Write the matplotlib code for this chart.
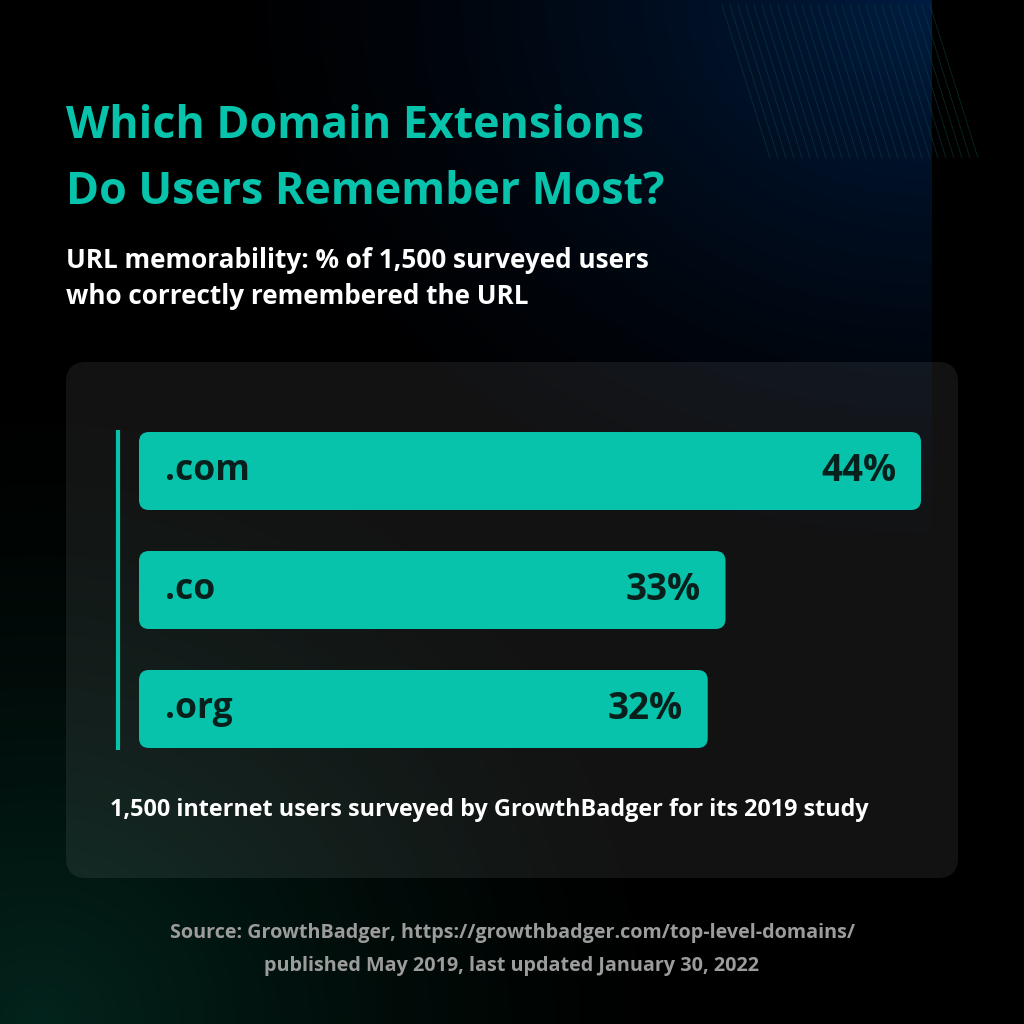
import numpy as np
import matplotlib; matplotlib.use('Agg')
import matplotlib.pyplot as plt
from matplotlib.patches import FancyBboxPatch

# data
categories = ['.com', '.co', '.org']
values = [44, 33, 32]
value_labels = ['44%', '33%', '32%']

TITLE = 'Which Domain Extensions\nDo Users Remember Most?'
SUBTITLE = 'URL memorability: % of 1,500 surveyed users\nwho correctly remembered the URL'
NOTE = '1,500 internet users surveyed by GrowthBadger for its 2019 study'
SOURCE = ['Source: GrowthBadger, https://growthbadger.com/top-level-domains/',
          'published May 2019, last updated January 30, 2022']

TEAL = '#07c3ac'
DARK = '#08201c'
FONT = 'Open Sans'

W = H = 1024
fig = plt.figure(figsize=(10.24, 10.24), dpi=100)
fig.patch.set_facecolor('black')

# background in pixel coordinates
bg = fig.add_axes([0, 0, 1, 1])
bg.set_xlim(0, W); bg.set_ylim(H, 0); bg.axis('off')

yy, xx = np.mgrid[0:H, 0:W].astype(float)
img = np.zeros((H, W, 3))
d_blue = np.hypot((xx - 932) / 1.0, (yy - 0) / 0.8)
blue = np.clip(1 - d_blue / 760, 0, 1) ** 1.6
img += blue[..., None] * np.array([0, 28, 66]) / 255
d_green = np.hypot(xx - 40, yy - 1024)
green = np.clip(1 - d_green / 650, 0, 1) ** 1.4
img += green[..., None] * np.array([3, 36, 28]) / 255
img[:, 932:] = 0
bg.imshow(np.clip(img, 0, 1), extent=[0, W, H, 0], aspect='auto', zorder=0)

# diagonal hairlines, top right
for k in range(27):
    x0 = 722 + k * 8
    bg.plot([x0, x0 + 48], [5, 158], color='#0b4a40', lw=0.6, alpha=0.55, zorder=1)

# card
card = FancyBboxPatch((66, 362), 892, 516, boxstyle='round,pad=0,rounding_size=20',
                      fc='white', ec='none', alpha=0.075, zorder=2)
bg.add_patch(card)

# accent line
bg.plot([118, 118], [430, 750], color=TEAL, lw=3, solid_capstyle='butt', zorder=3)

# texts
bg.text(66, 126, TITLE.split('\n')[0], color=TEAL, fontsize=32.2, fontweight='bold',
        family=FONT, va='center', ha='left', zorder=5)
bg.text(66, 192, TITLE.split('\n')[1], color=TEAL, fontsize=32.2, fontweight='bold',
        family=FONT, va='center', ha='left', zorder=5)
bg.text(66, 261, SUBTITLE.split('\n')[0], color='white', fontsize=18.8, fontweight='bold',
        family=FONT, va='center', ha='left', zorder=5)
bg.text(66, 297, SUBTITLE.split('\n')[1], color='white', fontsize=18.8, fontweight='bold',
        family=FONT, va='center', ha='left', zorder=5)
bg.text(110, 810, NOTE, color='white', fontsize=16.8, fontweight='bold',
        family=FONT, va='center', ha='left', zorder=5)
bg.text(512, 933, SOURCE[0], color='#9c9c9c', fontsize=14.2, fontweight='bold',
        family=FONT, va='center', ha='center', zorder=5)
bg.text(512, 966, SOURCE[1], color='#9c9c9c', fontsize=14.2, fontweight='bold',
        family=FONT, va='center', ha='center', zorder=5)

# bar axes: x 139..921 px for 0..44, bars 78 px tall, 119 px apart
x_left, x_right = 139, 921
bar_h = 78 / 119
y_top_val = -bar_h / 2
y_bot_val = 2 + bar_h / 2
ax = fig.add_axes([x_left / W, 1 - 748 / H, (x_right - x_left) / W, (748 - 432) / H])
ax.set_xlim(0, max(values)); ax.set_ylim(y_bot_val, y_top_val)
ax.axis('off'); ax.patch.set_alpha(0)

ypos = np.arange(len(categories))
bars = ax.barh(ypos, values, height=bar_h, color=TEAL)
x_per_px = max(values) / (x_right - x_left)
y_per_px = 1 / 119
for b in bars:
    b.set_visible(False)
    ax.add_patch(FancyBboxPatch((b.get_x(), b.get_y()), b.get_width(), b.get_height(),
                                boxstyle=f'round,pad=0,rounding_size={10 * x_per_px}',
                                mutation_aspect=y_per_px / x_per_px,
                                fc=TEAL, ec='none'))

for y, cat, v, lab in zip(ypos, categories, values, value_labels):
    ax.text(26 * x_per_px, y, cat, color=DARK, fontsize=25.5, fontweight='bold',
            family=FONT, va='center', ha='left')
    ax.text(v - 25 * x_per_px, y, lab, color=DARK, fontsize=26.5, fontweight='bold',
            family=FONT, va='center', ha='right')

fig.savefig('out.png', dpi=100, facecolor=fig.get_facecolor())
